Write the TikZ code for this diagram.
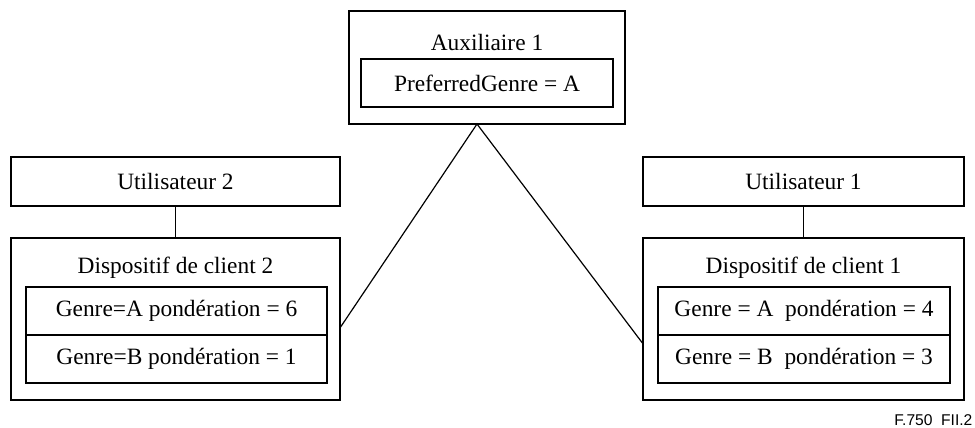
\documentclass[tikz,border=0pt]{standalone}
\usepackage{fontspec}
\setmainfont{Liberation Serif}
\newfontfamily\figfont{Liberation Sans}
\usepackage{tikz}

\begin{document}
\begin{tikzpicture}[x=0.5pt,y=-0.5pt,
  font=\fontsize{11.7}{14}\selectfont,
  box/.style={draw,line width=0.6pt,inner sep=0pt},
  every path/.style={line width=0.6pt}]
\useasboundingbox (0,0) rectangle (975,428);
% auxiliaire
\node [box,minimum width=138pt,minimum height=56.5pt] (aux) at (487,67.5) {};
\node (auxtitle) at (487,42) {Auxiliaire 1};
\node [box,minimum width=126pt,minimum height=24pt] (pref) at (487,83) {PreferredGenre = A};
% utilisateur 2
\node [box,minimum width=164.5pt,minimum height=24.5pt] (user2) at (175.5,181.5) {Utilisateur 2};
\node [box,minimum width=164.5pt,minimum height=81pt] (disp2) at (175.5,319) {};
\node (disp2title) at (175.5,268) {Dispositif de client 2};
\node [box,minimum width=150.5pt,minimum height=24pt] (genreA2) at (176.5,311) {Genre=A pondération = 6};
\node [box,minimum width=150.5pt,minimum height=24pt] (genreB2) at (176.5,359) {Genre=B pondération = 1};
% utilisateur 1
\node [box,minimum width=160.5pt,minimum height=24.5pt] (user1) at (803.5,181.5) {Utilisateur 1};
\node [box,minimum width=160.5pt,minimum height=81pt] (disp1) at (803.5,319) {};
\node (disp1title) at (803.5,268) {Dispositif de client 1};
\node [box,minimum width=146pt,minimum height=24pt] (genreA1) at (804,311) {Genre = A\ \ pondération = 4};
\node [box,minimum width=146pt,minimum height=24pt] (genreB1) at (804,359) {Genre = B\ \ pondération = 3};
% liens
\coordinate (apex) at (477,124);
\draw (user2) -- (disp2);
\draw (user1) -- (disp1);
\draw ([yshift=-4pt]disp2.east) -- (apex) -- ([yshift=-12pt]disp1.west);
\node [anchor=east,inner sep=0pt,font=\figfont\fontsize{7.8}{9}\selectfont] (figref) at (973,420) {F.750\ \ FII.2};
\end{tikzpicture}
\end{document}
